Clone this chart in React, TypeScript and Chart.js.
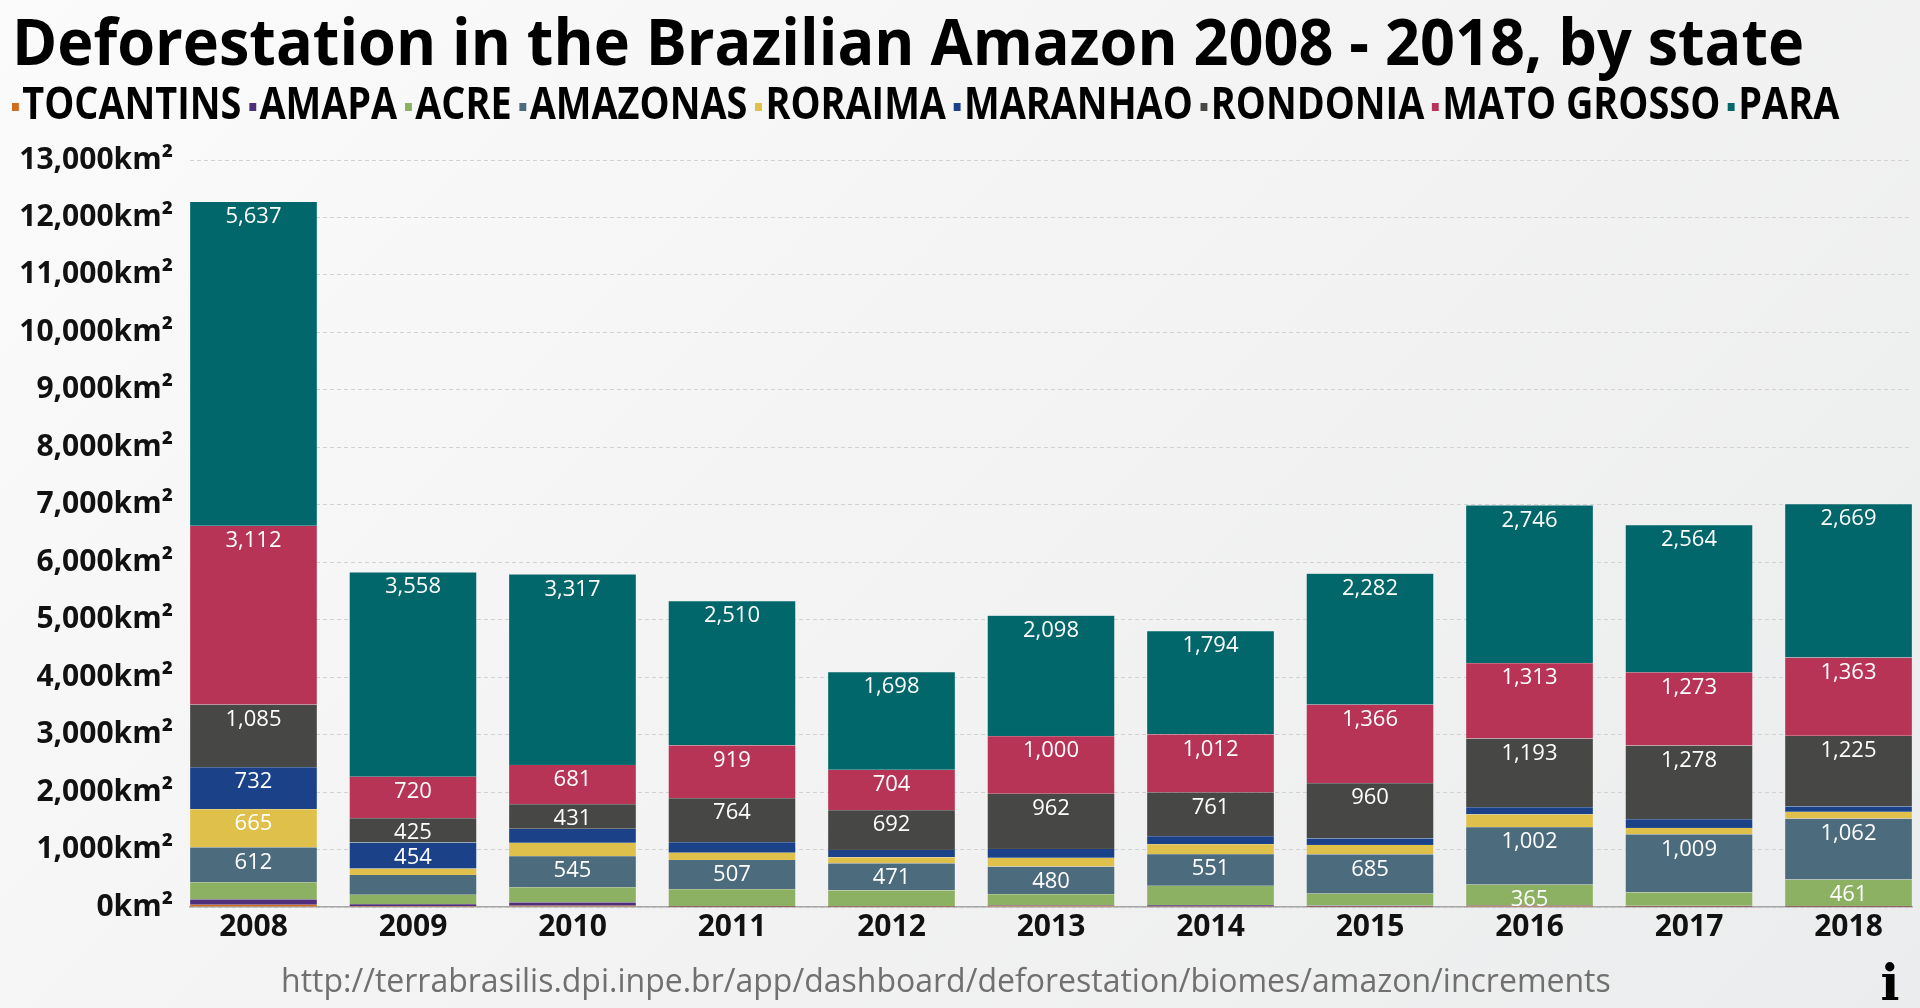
import { useRef, useEffect } from 'react';
import { Chart, registerables } from 'chart.js';

Chart.register(...registerables);

// años y valores por estado (km²)
const years = [2008, 2009, 2010, 2011, 2012, 2013, 2014, 2015, 2016, 2017, 2018];
const tocantins = [40, 12, 23, 5, 5, 23, 10, 5, 20, 5, 5];
const amapa = [93, 40, 58, 12, 8, 5, 23, 20, 5, 15, 12];
const acre = [295, 162, 260, 295, 278, 197, 336, 208, 365, 237, 461];
const amazonas = [612, 345, 545, 507, 471, 480, 551, 685, 1002, 1009, 1062];
const roraima = [665, 110, 232, 127, 104, 150, 174, 162, 220, 110, 116];
const maranhao = [732, 454, 243, 185, 127, 156, 139, 116, 127, 156, 98];
const rondonia = [1085, 425, 431, 764, 692, 962, 761, 960, 1193, 1278, 1225];
const matoGrosso = [3112, 720, 681, 919, 704, 1000, 1012, 1366, 1313, 1273, 1363];
const para = [5637, 3558, 3317, 2510, 1698, 2098, 1794, 2282, 2746, 2564, 2669];

const series = [
  { label: 'TOCANTINS', values: tocantins, color: '#cf6d1d' },
  { label: 'AMAPA', values: amapa, color: '#4e2f7c' },
  { label: 'ACRE', values: acre, color: '#8db162' },
  { label: 'AMAZONAS', values: amazonas, color: '#4c6b7d' },
  { label: 'RORAIMA', values: roraima, color: '#dfc04b' },
  { label: 'MARANHAO', values: maranhao, color: '#1b4289' },
  { label: 'RONDONIA', values: rondonia, color: '#474745' },
  { label: 'MATO GROSSO', values: matoGrosso, color: '#b83457' },
  { label: 'PARA', values: para, color: '#01676b' },
];

const yTicks = { min: 0, max: 13000, step: 1000 };
const title = 'Deforestation in the Brazilian Amazon 2008 - 2018, by state';
const sourceUrl = 'http://terrabrasilis.dpi.inpe.br/app/dashboard/deforestation/biomes/amazon/increments';

const fmt = (v: number) => v.toLocaleString('en-US');

/** etiquetas blancas dentro de cada segmento, cerca del borde superior */
const segmentLabels = {
  id: 'segmentLabels',
  afterDatasetsDraw(chart: any) {
    const ctx = chart.ctx;
    ctx.save();
    ctx.fillStyle = '#ffffff';
    ctx.font = '22px "Open Sans"';
    ctx.textAlign = 'center';
    ctx.textBaseline = 'middle';
    const area = chart.chartArea;
    ctx.beginPath();
    ctx.rect(area.left, area.top, area.right - area.left, area.bottom - area.top);
    ctx.clip();
    chart.data.datasets.forEach((ds: any, i: number) => {
      const meta = chart.getDatasetMeta(i);
      meta.data.forEach((bar: any, j: number) => {
        const v = ds.data[j].y;
        if (v < 350) return;
        ctx.fillText(fmt(v), bar.x, bar.y + 15);
      });
    });
    ctx.restore();
  },
};

function DeforestationChart() {
  const canvasRef = useRef<HTMLCanvasElement>(null);

  useEffect(() => {
    const canvas = canvasRef.current;
    if (!canvas) return;
    const chart = new Chart(canvas, {
      type: 'bar',
      data: {
        datasets: series.map((s) => ({
          label: s.label,
          data: s.values.map((v, i) => ({ x: years[i], y: v })),
          backgroundColor: s.color,
          borderColor: 'rgba(255,255,255,0.25)',
          borderWidth: 0.5,
          barThickness: 127,
        })),
      },
      plugins: [segmentLabels],
      options: {
        animation: false,
        responsive: true,
        maintainAspectRatio: false,
        events: [],
        layout: { padding: { left: 12, right: 8, top: 160, bottom: 69 } },
        scales: {
          x: {
            type: 'linear',
            stacked: true,
            offset: false,
            min: years[0] - 0.398,
            max: years[years.length - 1] + 0.398,
            afterBuildTicks: (scale: any) => {
              scale.ticks = years.map((y) => ({ value: y }));
            },
            grid: { display: false, offset: false },
            border: { display: true, color: '#a8a8a8', width: 1.5 },
            ticks: {
              autoSkip: false,
              maxRotation: 0,
              padding: -3,
              color: '#111',
              font: { family: 'Open Sans', size: 30, weight: 'bold', lineHeight: 1 },
              callback: (v: any) => String(v),
            },
          },
          y: {
            stacked: true,
            min: yTicks.min,
            max: yTicks.max,
            afterFit: (scale: any) => {
              scale.width = 178;
            },
            grid: { color: '#d2d2d2', lineWidth: 1, drawTicks: false },
            border: { display: false, dash: [4, 3] },
            ticks: {
              stepSize: yTicks.step,
              padding: 17,
              color: '#111',
              font: { family: 'Open Sans', size: 30, weight: 'bold' },
              callback: (v: any) => fmt(v) + 'km²',
            },
          },
        },
        plugins: {
          title: { display: false },
          legend: { display: false },
          tooltip: { enabled: false },
        },
      },
    });
    return () => {
      chart.destroy();
    };
  }, []);

  return <canvas ref={canvasRef} />;
}

function Legend() {
  return (
    <div
      style={{
        position: 'absolute',
        left: 12,
        top: 80,
        display: 'flex',
        alignItems: 'baseline',
        whiteSpace: 'nowrap',
        transform: 'scaleX(0.86)',
        transformOrigin: 'left top',
        fontFamily: '"Open Sans"',
        fontWeight: 'bold',
        fontSize: 44,
        lineHeight: 1,
        color: '#000',
      }}
    >
      {series.map((s) => (
        <span key={s.label} style={{ marginRight: 9 }}>
          <span
            style={{
              display: 'inline-block',
              width: 8,
              height: 8,
              background: s.color,
              marginRight: 4,
              position: 'relative',
              top: -8,
            }}
          />
          {s.label}
        </span>
      ))}
    </div>
  );
}

export default function App() {
  useEffect(() => {
    document.body.style.margin = '0';
  }, []);

  return (
    <div
      style={{
        position: 'relative',
        width: 1920,
        height: 1008,
        overflow: 'hidden',
        background: 'linear-gradient(135deg, #fbfbfb 0%, #f3f3f3 50%, #ebeced 100%)',
      }}
    >
      <div style={{ position: 'absolute', inset: 0 }}>
        <DeforestationChart />
      </div>
      <div
        style={{
          position: 'absolute',
          left: 12,
          top: 9,
          whiteSpace: 'nowrap',
          transform: 'scaleX(0.956)',
          transformOrigin: 'left top',
          fontFamily: '"Open Sans"',
          fontWeight: 'bold',
          fontSize: 64,
          lineHeight: 1,
          color: '#000',
        }}
      >
        {title}
      </div>
      <Legend />
      <div
        style={{
          position: 'absolute',
          left: 281,
          top: 964,
          whiteSpace: 'nowrap',
          fontFamily: '"Open Sans"',
          fontSize: 32,
          lineHeight: 1,
          color: '#707070',
        }}
      >
        {sourceUrl}
      </div>
      <div
        style={{
          position: 'absolute',
          left: 1878,
          top: 958,
          width: 24,
          textAlign: 'center',
          fontFamily: '"DejaVu Serif"',
          fontWeight: 'bold',
          fontSize: 50,
          lineHeight: 1,
          color: '#000',
        }}
      >
        i
      </div>
    </div>
  );
}
